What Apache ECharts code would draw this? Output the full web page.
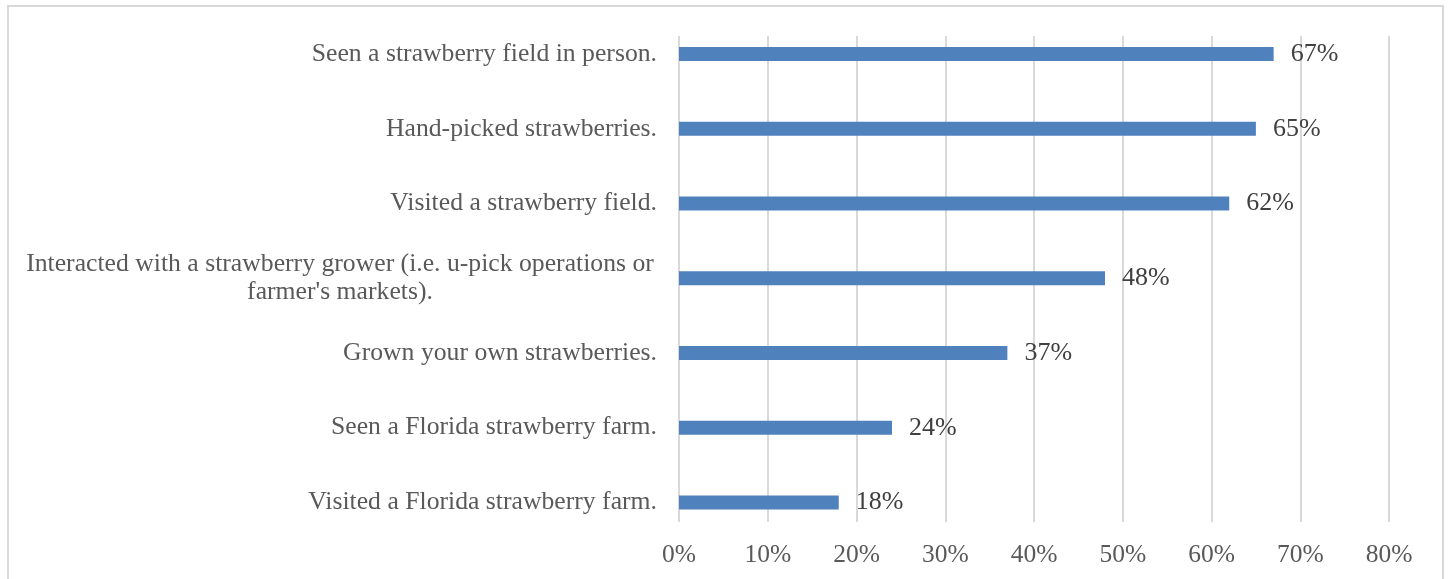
<!DOCTYPE html>
<html>
<head>
<meta charset="utf-8">
<title>Strawberry experiences</title>
<script src="https://cdn.jsdelivr.net/npm/echarts@6/dist/echarts.min.js"></script>
<style>
  html, body { margin: 0; padding: 0; background: #ffffff; }
  #chart { width: 1448px; height: 579px; }
</style>
</head>
<body>
<div id="chart"></div>
<script>
// Survey responses, listed top to bottom
const categories = [
  'Seen a strawberry field in person.',
  'Hand-picked strawberries.',
  'Visited a strawberry field.',
  "Interacted with a strawberry grower (i.e. u-pick operations or\nfarmer's markets).",
  'Grown your own strawberries.',
  'Seen a Florida strawberry farm.',
  'Visited a Florida strawberry farm.'
];
const percentValues = [67, 65, 62, 48, 37, 24, 18];
const axisTicks = [0, 10, 20, 30, 40, 50, 60, 70, 80];

const FONT = 'Liberation Serif';
const AXIS_MIN = axisTicks[0];
const AXIS_MAX = axisTicks[axisTicks.length - 1];
const AXIS_STEP = axisTicks[1] - axisTicks[0];

const chart = echarts.init(document.getElementById('chart'), null, { renderer: 'canvas' });

chart.setOption({
  backgroundColor: '#ffffff',
  animation: false,
  graphic: [{
    type: 'rect',
    shape: { x: 8, y: 6, width: 1435, height: 620 },
    style: { fill: 'none', stroke: '#d9d9d9', lineWidth: 2 },
    silent: true,
    z: -10
  }],
  grid: [
    // bars
    { left: 679, right: 59, top: 16.75, bottom: 39.25, containLabel: false },
    // gridlines and percent axis
    { left: 679, right: 59, top: 36, bottom: 57, containLabel: false }
  ],
  xAxis: [
    {
      gridIndex: 0, type: 'value', min: AXIS_MIN, max: AXIS_MAX, interval: AXIS_STEP,
      show: false
    },
    {
      gridIndex: 1, type: 'value', min: AXIS_MIN, max: AXIS_MAX, interval: AXIS_STEP,
      axisLine: { show: false },
      axisTick: { show: false },
      splitLine: { show: true, lineStyle: { color: '#d9d9d9', width: 2 } },
      axisLabel: {
        margin: 20,
        color: '#595959',
        fontFamily: FONT,
        fontSize: 25.5,
        formatter: v => v + '%'
      }
    }
  ],
  yAxis: [
    {
      gridIndex: 0, type: 'category', data: categories, inverse: true,
      axisLine: { show: false },
      axisTick: { show: false },
      splitLine: { show: false },
      axisLabel: {
        margin: 22,
        color: '#595959',
        fontFamily: FONT,
        fontSize: 25.7,
        lineHeight: 28,
        formatter: function (value) {
          if (value.indexOf('\n') >= 0) {
            return value.split('\n').map(s => '{c|' + s + '}').join('\n');
          }
          return value;
        },
        rich: {
          c: {
            width: 634,
            align: 'center',
            color: '#595959',
            fontFamily: FONT,
            fontSize: 25.7,
            lineHeight: 28
          }
        }
      }
    },
    {
      gridIndex: 1, type: 'category', data: categories, inverse: true,
      show: false
    }
  ],
  series: [{
    type: 'bar',
    xAxisIndex: 0,
    yAxisIndex: 0,
    data: percentValues,
    barWidth: 14,
    itemStyle: { color: '#4f81bd' },
    label: {
      show: true,
      position: 'right',
      distance: 17,
      color: '#404040',
      fontFamily: FONT,
      fontSize: 26,
      formatter: p => p.value + '%'
    }
  }]
});
</script>
</body>
</html>
